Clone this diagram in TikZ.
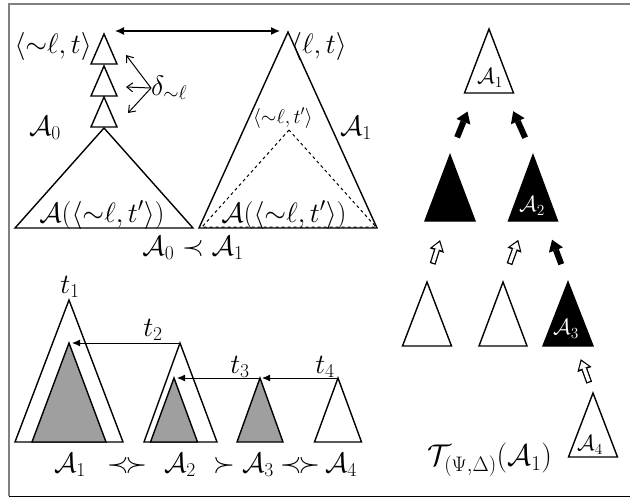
\RequirePackage{fix-cm}
\documentclass[tikz,border=0pt]{standalone}
\usetikzlibrary{arrows.meta,calc}

\tikzset{
  tri/.style={line width=1.4pt, line join=miter},
  lbl/.style={font=\fontsize{28}{30}\selectfont, inner sep=0pt},
  slbl/.style={font=\fontsize{20}{22}\selectfont, inner sep=0pt},
  mlbl/.style={font=\fontsize{22}{24}\selectfont, inner sep=0pt},
  blk/.style={line width=6pt, -{Triangle[length=11pt,width=15pt,line width=0pt]},
    shorten <=19pt, shorten >=20pt},
}

\begin{document}
\begin{tikzpicture}[x=1pt, y=-1pt, >={Latex[length=8pt,width=7pt]}]
  \useasboundingbox (0,0) rectangle (630,498);

  % Frame
  \draw[gray, line width=1.2pt] (9,496) -- (9,4) -- (630,4);
  \draw[line width=1pt] (9,496) -- (630,496);

  % A_0 : chain of small subtrees on top of a big one
  \coordinate (s1) at (104,34);
  \coordinate (s2) at (104,66);
  \coordinate (s3) at (104,97);
  \coordinate (a0) at (104,128);
  \foreach \c in {s1,s2,s3}
    \draw[tri] (\c) -- ++(-13,30) -- ++(26,0) -- cycle;
  \draw[tri] (a0) -- ++(-89,100) -- ++(178,0) -- cycle;

  % A_1 with the dashed subtree inside
  \coordinate (a1) at (288,32);
  \coordinate (d1) at (289,130);
  \draw[tri] (a1) -- ++(-89,196) -- ++(178,0) -- cycle;
  \draw[dashed, line width=1pt] (d1) -- ++(-87,97) -- ++(174,0) -- cycle;

  \node[lbl, anchor=east] (top0) at (92,46) {$\langle{\sim}\ell,t\rangle$};
  \node[lbl, anchor=west] (top1) at (291,46) {$\langle\ell,t\rangle$};
  \node[lbl, anchor=west] (dl) at (151,88) {$\delta_{\sim\ell}$};
  \node[lbl] (A0) at (45,128) {$\mathcal{A}_0$};
  \node[lbl] (A1) at (356,128) {$\mathcal{A}_1$};
  \node[slbl] (dt) at (283,118) {$\langle{\sim}\ell,t'\rangle$};
  \node[lbl] (sub0) at (102,215) {$\mathcal{A}(\langle{\sim}\ell,t'\rangle)$};
  \node[lbl] (sub1) at (284,215) {$\mathcal{A}(\langle{\sim}\ell,t'\rangle)$};
  \node[lbl] (prec) at (193,248) {$\mathcal{A}_0\prec\mathcal{A}_1$};

  \draw[{Latex[length=9pt,width=8pt]}-{Latex[length=9pt,width=8pt]}, line width=1.3pt]
    ([shift={(11,-3)}]s1) -- ([shift={(-8,-1)}]a1);
  \foreach \c/\dx/\dy in {s1/22/21, s2/22/21, s3/24/16}
    \draw[line width=1pt, -{Straight Barb[length=6pt,width=9pt]}] (dl.west) -- ($(\c)+(\dx,\dy)$);

  % 2. Bottom left: four trees and their roots
  \coordinate (o1) at (69,300);
  \coordinate (g1) at (69,343);
  \coordinate (o2) at (180,343);
  \coordinate (g2) at (174,378);
  \coordinate (g3) at (260,378);
  \coordinate (o4) at (338,378);
  \draw[tri] (o1) -- ++(-54,142) -- ++(108,0) -- cycle;
  \draw[tri, fill=gray!75] (g1) -- ++(-37,99) -- ++(74,0) -- cycle;
  \draw[tri] (o2) -- ++(-36,99) -- ++(73,0) -- cycle;
  \draw[tri, fill=gray!75] (g2) -- ++(-23.5,64) -- ++(47,0) -- cycle;
  \draw[tri, fill=gray!75] (g3) -- ++(-23,64) -- ++(46,0) -- cycle;
  \draw[tri] (o4) -- ++(-23.5,64) -- ++(47,0) -- cycle;

  \draw[->, line width=1pt, shorten >=3pt] (o2) -- (g1);
  \draw[->, line width=1pt, shorten >=3pt] (g3) -- (g2);
  \draw[->, line width=1pt, shorten >=2pt] (o4) -- (g3);

  \node[lbl] (t1) at (70,287) {$t_1$};
  \node[lbl] (t2) at (153,330) {$t_2$};
  \node[lbl] (t3) at (240,367) {$t_3$};
  \node[lbl] (t4) at (325,367) {$t_4$};

  \node[lbl, anchor=base] (B1) at (70,472) {$\mathcal{A}_1$};
  \node[lbl, anchor=base] (r12) at (127,472) {$\prec\mkern-2mu\succ$};
  \node[lbl, anchor=base] (B2) at (180,472) {$\mathcal{A}_2$};
  \node[lbl, anchor=base] (r23) at (224,472) {$\succ$};
  \node[lbl, anchor=base] (B3) at (258,472) {$\mathcal{A}_3$};
  \node[lbl, anchor=base] (r34) at (300,472) {$\prec\mkern-2mu\succ$};
  \node[lbl, anchor=base] (B4) at (341,472) {$\mathcal{A}_4$};

  % 3. Right: the tree T of A_1
  \coordinate (r1) at (489,29);
  \coordinate (b1) at (450,155);
  \coordinate (b2) at (533,155);
  \coordinate (w1) at (427,282);
  \coordinate (w2) at (503,282);
  \coordinate (b3) at (568,282);
  \coordinate (w4) at (593,393);
  \draw[tri] (r1) -- ++(-24.5,64) -- ++(49,0) -- cycle;
  \draw[tri, fill=black] (b1) -- ++(-25,66) -- ++(50,0) -- cycle;
  \draw[tri, fill=black] (b2) -- ++(-24.5,66) -- ++(49,0) -- cycle;
  \draw[tri] (w1) -- ++(-24.5,64) -- ++(49,0) -- cycle;
  \draw[tri] (w2) -- ++(-24,64) -- ++(48,0) -- cycle;
  \draw[tri, fill=black] (b3) -- ++(-25,64) -- ++(50,0) -- cycle;
  \draw[tri] (w4) -- ++(-24.5,64) -- ++(49,0) -- cycle;

  \node[mlbl] (R1) at ($(r1)+(1,49)$) {$\mathcal{A}_1$};
  \node[mlbl, text=white] (R2) at ($(b2)+(-1,51)$) {$\mathcal{A}_2$};
  \node[mlbl, text=white] (R3) at ($(b3)+(-2,47)$) {$\mathcal{A}_3$};
  \node[mlbl] (R4) at ($(w4)+(-3,52)$) {$\mathcal{A}_4$};
  \node[lbl, font=\fontsize{30}{32}\selectfont] (T) at (490,460)
    {$\mathcal{T}_{(\Psi,\Delta)}(\mathcal{A}_1)$};

  \coordinate (h1) at ($(b1)+(-4,66)$);
  \coordinate (h2) at ($(b2)+(-8,66)$);
  \coordinate (h4) at ($(b3)+(8,64)$);
  \draw[blk] (b1) -- ($(r1)+(-14,64)$);
  \draw[blk] (b2) -- ($(r1)+(16,64)$);
  \draw[blk] (b3) -- ($(b2)+(12,66)$);
  \foreach \s/\t/\a/\b in {w1/h1/19/20, w2/h2/19/20, w4/h4/11/14} {
    \draw[line width=6pt, -{Triangle[length=11pt,width=15pt,line width=0pt]},
      shorten <=\a pt, shorten >=\b pt] (\s) -- (\t);
    \draw[white, line width=3.4pt, -{Triangle[length=7pt,width=10pt,line width=0pt]},
      shorten <=\a pt+1.3pt, shorten >=\b pt+2.3pt] (\s) -- (\t);
  }
\end{tikzpicture}
\end{document}
